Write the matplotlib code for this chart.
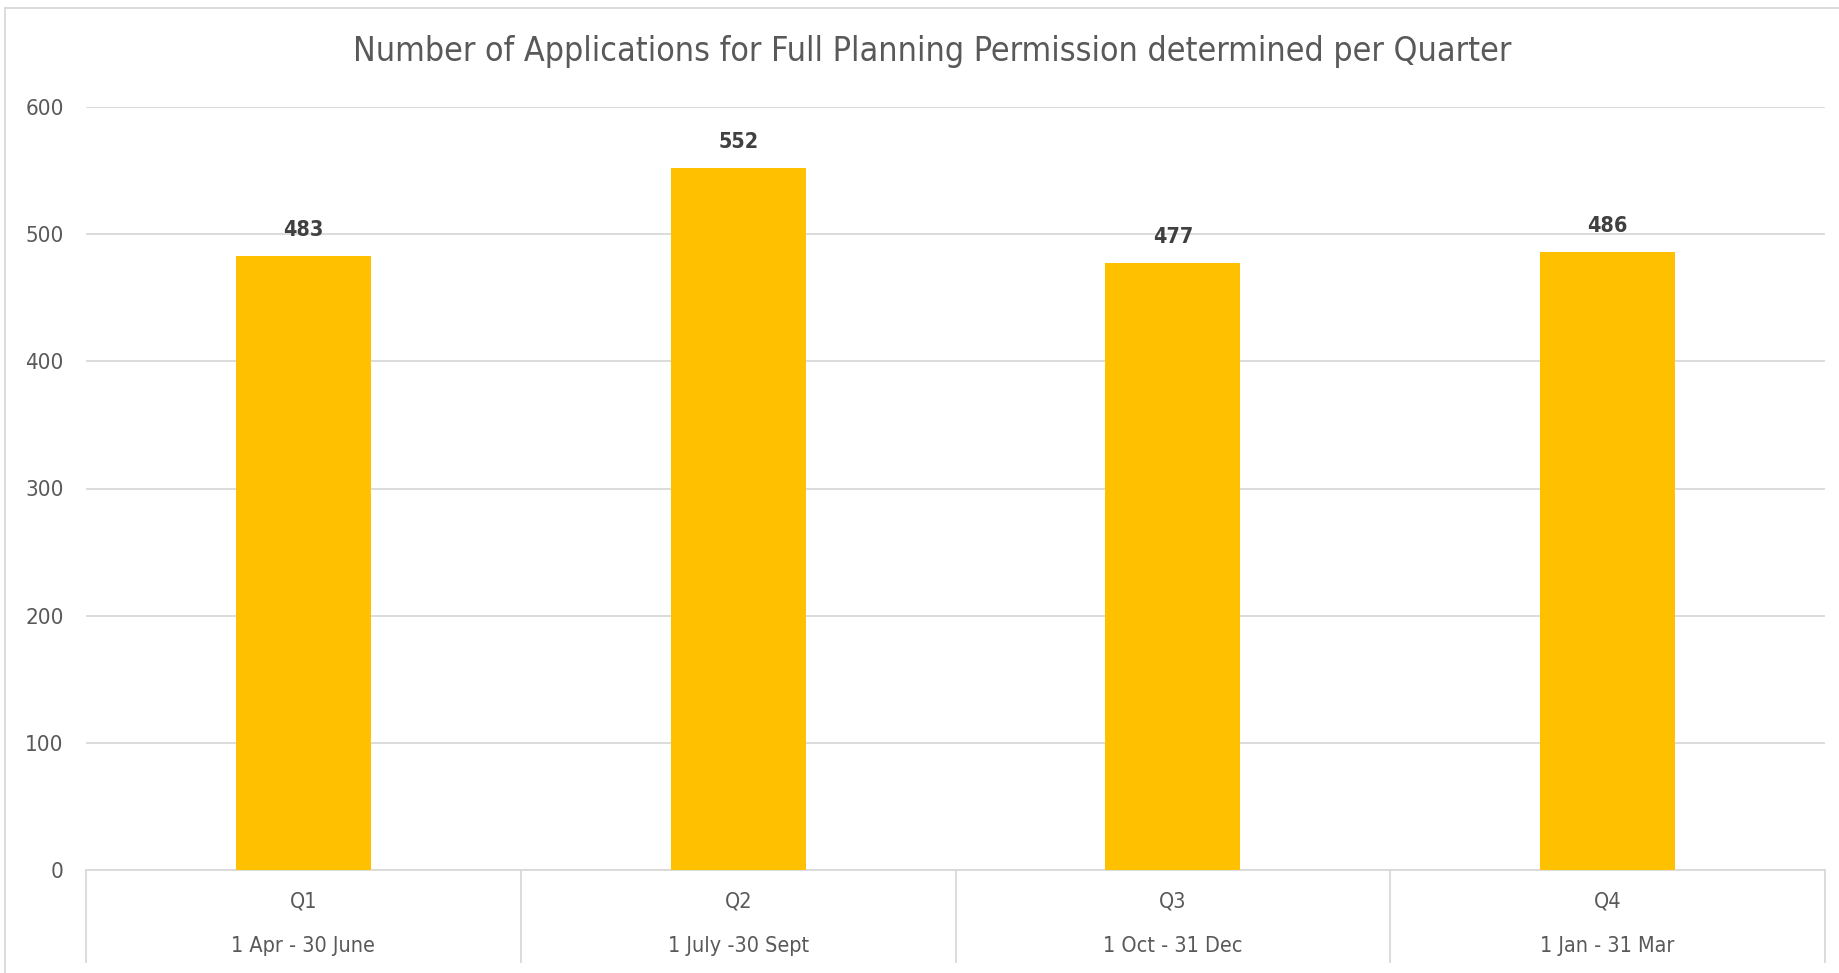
import matplotlib.pyplot as plt
from matplotlib.lines import Line2D
import matplotlib.transforms as mtransforms

plt.rcParams['font.family'] = ['DejaVu Sans']
plt.rcParams['font.stretch'] = 'condensed'

quarters = ['Q1', 'Q2', 'Q3', 'Q4']
periods = ['1 Apr - 30 June', '1 July -30 Sept', '1 Oct - 31 Dec', '1 Jan - 31 Mar']
applications = [483, 552, 477, 486]
y_ticks = [0, 100, 200, 300, 400, 500, 600]

W, H = 1839, 973
fig = plt.figure(figsize=(W / 100, H / 100), dpi=100)

# plot area in pixel terms
left, right, y0, y600 = 86, 1825, 870, 107
ax = fig.add_axes([left / W, (H - y0) / H, (right - left) / W, (y0 - y600) / H])

x = range(len(quarters))
bars = ax.bar(x, applications, width=0.31, color='#FFC000', zorder=3)
ax.set_xlim(-0.5, len(quarters) - 0.5)
ax.set_ylim(0, 600)
ax.set_yticks(y_ticks)
ax.set_yticklabels([str(t) for t in y_ticks], fontsize=16, color='#595959')
ax.tick_params(axis='y', length=0, pad=16)
ax.set_xticks([])
ax.grid(axis='y', color='#d9d9d9', linewidth=1.3, zorder=0)
for s in ['top', 'right', 'left']:
    ax.spines[s].set_visible(False)
ax.spines['bottom'].set_color('#d9d9d9')
ax.spines['bottom'].set_linewidth(1.3)

for b, v in zip(bars, applications):
    ax.annotate(str(v), (b.get_x() + b.get_width() / 2, v), xytext=(0, 26),
                textcoords='offset pixels', ha='center', va='center',
                fontsize=15.5, fontweight='bold', color='#404040')

# two-level category axis
trans = mtransforms.blended_transform_factory(ax.transData, ax.transAxes)
bottom_ax = -(962 - y0) / (y0 - y600)
for i in range(len(quarters) + 1):
    ax.add_line(Line2D([i - 0.5, i - 0.5], [0, bottom_ax], transform=trans,
                       color='#d9d9d9', linewidth=1.3, clip_on=False))
q_y = -(901 - y0) / (y0 - y600)
p_y = -(946 - y0) / (y0 - y600)
for i, (q, p) in enumerate(zip(quarters, periods)):
    ax.text(i, q_y, q, transform=trans, ha='center', va='center',
            fontsize=15.5, color='#595959')
    ax.text(i, p_y, p, transform=trans, ha='center', va='center',
            fontsize=15.5, color='#595959')

fig.text(932 / W, 1 - 52 / H,
         'Number of Applications for Full Planning Permission determined per Quarter',
         ha='center', va='center', fontsize=24.4, color='#595959')

# chart border (cropped on right and bottom)
fig.add_artist(Line2D([5 / W, 5 / W], [0, 1 - 8 / H], transform=fig.transFigure,
                      color='#d9d9d9', linewidth=1.3))
fig.add_artist(Line2D([5 / W, 1], [1 - 8 / H, 1 - 8 / H], transform=fig.transFigure,
                      color='#d9d9d9', linewidth=1.3))

fig.savefig('out.png', dpi=100)
